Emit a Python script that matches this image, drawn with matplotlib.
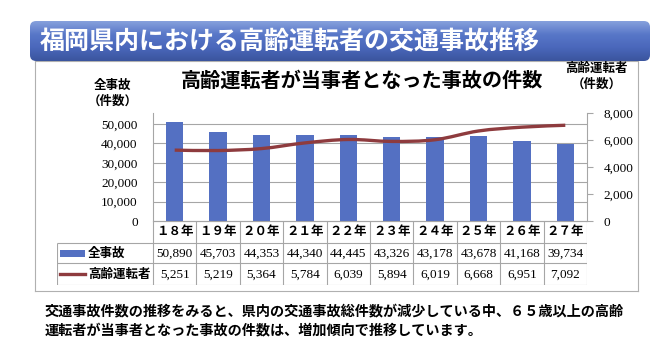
import numpy as np
import matplotlib

matplotlib.use("Agg")
import matplotlib.pyplot as plt
from matplotlib.path import Path
from matplotlib.patches import PathPatch, Rectangle, FancyBboxPatch
from matplotlib.lines import Line2D

plt.rcParams["font.family"] = ["Noto Sans CJK JP", "DejaVu Sans"]

# ---- data -------------------------------------------------------------
years = ["１８年", "１９年", "２０年", "２１年", "２２年",
         "２３年", "２４年", "２５年", "２６年", "２７年"]
total_accidents = [50890, 45703, 44353, 44340, 44445,
                   43326, 43178, 43678, 41168, 39734]
elderly_accidents = [5251, 5219, 5364, 5784, 6039,
                     5894, 6019, 6668, 6951, 7092]
left_ticks = [0, 10000, 20000, 30000, 40000, 50000]
right_ticks = [0, 2000, 4000, 6000, 8000]

title = "福岡県内における高齢運転者の交通事故推移"
chart_title = "高齢運転者が当事者となった事故の件数"
series_names = ["全事故", "高齢運転者"]
note = ("交通事故件数の推移をみると、県内の交通事故総件数が減少している中、６５歳以上の高齢\n"
        "運転者が当事者となった事故の件数は、増加傾向で推移しています。")

BAR = "#5470c2"
LINE = "#8e3b3e"
GRID = "#a6a6a6"
SERIF = "Liberation Serif"

W, H = 666, 356
fig = plt.figure(figsize=(W / 100, H / 100), dpi=100)


def fx(px):
    return px / W


def fy(py):
    return 1 - py / H


# ---- white frame ------------------------------------------------------
frame = fig.add_axes([fx(35), fy(291), fx(603), (291 - 61) / H], zorder=-5)
frame.set_xticks([])
frame.set_yticks([])
for s in frame.spines.values():
    s.set_color("#b0b0b0")

# ---- banner -----------------------------------------------------------
ban = fig.add_axes([fx(30), fy(61), fx(620), (61 - 21) / H])
ban.set_xlim(0, 1)
ban.set_ylim(0, 1)
ban.axis("off")
grad = np.linspace(0, 1, 64).reshape(-1, 1)
cmap = matplotlib.colors.LinearSegmentedColormap.from_list(
    "ban", ["#3b559e", "#4a67bb", "#5877c8", "#86a0dc"])
img = ban.imshow(grad, extent=[0, 1, 0, 1], origin="lower", aspect="auto", cmap=cmap)
clip = FancyBboxPatch((0.0, 0.0), 1, 1, boxstyle="round,pad=0,rounding_size=0.01",
                      transform=ban.transAxes, facecolor="none", edgecolor="none",
                      mutation_aspect=15)
ban.add_patch(clip)
img.set_clip_path(clip)
ban.text(0.016, 0.47, title, color="white", fontsize=18, fontweight="bold",
         va="center", ha="left", transform=ban.transAxes)

# ---- chart ------------------------------------------------------------
x0, x1, y0, y1 = 153, 587, 221, 113
ax = fig.add_axes([fx(x0), fy(y0), fx(x1 - x0), (y0 - y1) / H])
n = len(years)
xs = np.arange(n)
ax.bar(xs, total_accidents, width=0.4, color=BAR, zorder=2)
ax.set_xlim(-0.5, n - 0.5)
ax.set_ylim(0, 55700)
ax.set_yticks(left_ticks)
ax.set_yticklabels([f"{v:,}" for v in left_ticks], fontfamily=SERIF, fontsize=9.5)
ax.yaxis.grid(True, color=GRID, linewidth=0.8, zorder=0)
ax.set_axisbelow(True)
ax.set_xticks([])
ax.tick_params(axis="y", length=0, pad=11)
for side in ["top", "right"]:
    ax.spines[side].set_visible(False)
ax.spines["left"].set_color(GRID)
ax.spines["bottom"].set_color(GRID)
ax.set_facecolor("none")

ax2 = ax.twinx()
ax2.set_ylim(0, 8000)
ax2.set_yticks(right_ticks)
ax2.set_yticklabels([f"{v:,}" for v in right_ticks], fontfamily=SERIF, fontsize=9.5)
ax2.tick_params(axis="y", length=4, color=GRID, pad=8)
for side in ["top", "left", "bottom"]:
    ax2.spines[side].set_visible(False)
ax2.spines["right"].set_color(GRID)

# smoothed line (Catmull-Rom through the data points)
pts = np.column_stack([xs, elderly_accidents]).astype(float)
verts = [pts[0]]
codes = [Path.MOVETO]
for i in range(n - 1):
    p0 = pts[i - 1] if i > 0 else pts[i]
    p1, p2 = pts[i], pts[i + 1]
    p3 = pts[i + 2] if i + 2 < n else pts[i + 1]
    verts += [p1 + (p2 - p0) / 6, p2 - (p3 - p1) / 6, p2]
    codes += [Path.CURVE4] * 3
ax2.add_patch(PathPatch(Path(verts, codes), facecolor="none", edgecolor=LINE,
                        linewidth=2.4, zorder=3, capstyle="butt"))

# axis captions and chart title
fig.text(fx(113), fy(85), "全事故", ha="center", va="center", fontsize=9, fontweight="bold")
fig.text(fx(113), fy(101), "（件数）", ha="center", va="center", fontsize=9, fontweight="bold")
fig.text(fx(596), fy(68), "高齢運転者", ha="center", va="center", fontsize=9, fontweight="bold")
fig.text(fx(597), fy(84), "（件数）", ha="center", va="center", fontsize=9, fontweight="bold")
fig.text(fx(362), fy(80), chart_title, ha="center", va="center", fontsize=14.5, fontweight="bold")

# ---- data table -------------------------------------------------------
tb = fig.add_axes([fx(57), fy(285), fx(x1 - 57), (285 - 221) / H])
tb.set_xlim(57, x1)
tb.set_ylim(285, 221)
tb.axis("off")
col_w = (x1 - x0) / n
rows = [221, 243, 263, 285]
lw = 0.8
tb.hlines(rows[0], x0, x1, color=GRID, lw=lw)
tb.hlines(rows[1:], 57, x1, color=GRID, lw=lw)
tb.vlines([57], rows[1], rows[3], color=GRID, lw=lw)
tb.vlines([x0 + col_w * k for k in range(n + 1)], rows[0], rows[3], color=GRID, lw=lw)

for k in range(n):
    cx = x0 + col_w * (k + 0.5)
    tb.text(cx, (rows[0] + rows[1]) / 2, years[k], ha="center", va="center",
            fontsize=9, fontweight="bold")
    tb.text(cx, (rows[1] + rows[2]) / 2 + 0.5, f"{total_accidents[k]:,}", ha="center",
            va="center", fontsize=9.5, fontfamily=SERIF)
    tb.text(cx, (rows[2] + rows[3]) / 2 + 0.5, f"{elderly_accidents[k]:,}", ha="center",
            va="center", fontsize=9.5, fontfamily=SERIF)

# legend keys
r1 = (rows[1] + rows[2]) / 2
r2 = (rows[2] + rows[3]) / 2
tb.add_patch(Rectangle((60, r1 - 3.5), 25, 7, facecolor=BAR, edgecolor="none"))
tb.add_line(Line2D([60, 85], [r2, r2], color=LINE, lw=2.4))
tb.text(88, r1, series_names[0], ha="left", va="center", fontsize=9, fontweight="bold")
tb.text(88, r2, series_names[1], ha="left", va="center", fontsize=9, fontweight="bold")

# ---- footnote ---------------------------------------------------------
fig.text(fx(45), fy(321), note, ha="left", va="center", fontsize=10.2, fontweight="bold",
         linespacing=1.5)

fig.savefig("out.png", dpi=100)
